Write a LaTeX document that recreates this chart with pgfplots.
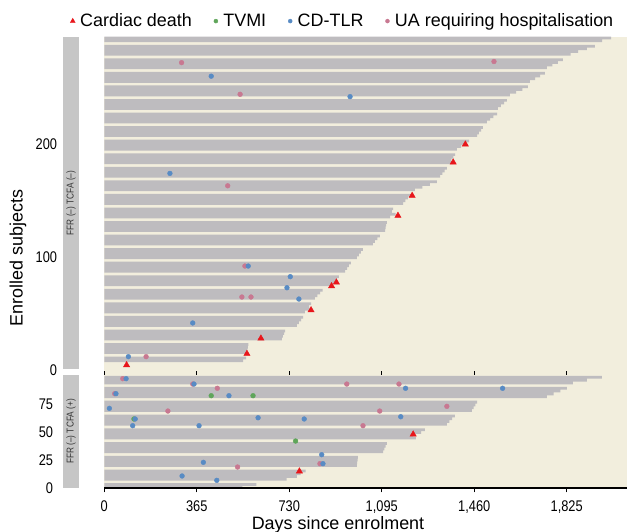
\documentclass[border=0pt]{standalone}
\usepackage{pgfplots}
\usepackage{pgfplotstable}
\pgfplotsset{compat=1.18}
\usepackage{fontspec}
\setmainfont{Liberation Sans}
\newfontfamily\condfont{Liberation Sans}[FakeStretch=0.83]
\definecolor{bg}{HTML}{F2EEDD}
\definecolor{bargray}{HTML}{BEBCBF}
\definecolor{stripgray}{HTML}{C6C6C6}
\definecolor{cdred}{HTML}{E8161B}
\definecolor{tvgreen}{HTML}{5FA55A}
\definecolor{tlrblue}{HTML}{588BC4}
\definecolor{uapink}{HTML}{C87891}

% follow-up per row group, FFR(-) TCFA(-)
\pgfplotstableread{
y len
293.8 2000
291.4 1965
286.6 1936
284.2 1905
281.8 1870
279.4 1840
274.6 1810
272.2 1790
269.8 1768
267.4 1747
262.6 1739
260.2 1720
257.8 1700
255.4 1680
250.6 1672
248.2 1650
245.8 1625
243.4 1601
238.6 1589
236.2 1578
233.8 1565
231.4 1553
226.6 1550
224.2 1536
221.8 1523
219.4 1510
214.6 1494
212.2 1487
209.8 1478
207.4 1471
202.6 1440
200.2 1425
197.8 1408
195.4 1392
190.6 1385
188.2 1378
185.8 1370
183.4 1377
178.6 1352
176.2 1343
173.8 1334
171.4 1325
166.6 1313
164.2 1285
161.8 1255
159.4 1226
154.6 1215
152.2 1198
149.8 1188
147.4 1179
142.6 1140
140.2 1135
137.8 1150
135.4 1128
130.6 1115
128.2 1112
125.8 1110
123.4 1108
118.6 1088
116.2 1078
113.8 1068
111.4 1060
106.6 1021
104.2 1013
101.8 1005
99.4 997
94.6 973
92.2 965
89.8 958
87.4 950
82.6 926
80.2 918
77.8 916
75.4 902
70.6 862
68.2 852
65.8 841
63.4 831
58.6 816
56.2 808
53.8 816
51.4 792
46.6 785
44.2 777
41.8 768
39.4 760
34.6 714
32.2 710
29.8 705
27.4 701
22.6 569
20.2 567
17.8 565
15.4 563
10.6 560
8.2 548
}\topbars

\pgfplotstableread{
x y
1425 199.7
1377 183.8
1215 154.3
1159 136.6
916 77.6
897 74.3
816 53
618 28
563 14.4
88 4.4
}\topdeath
\pgfplotstableread{
x y
422 260
259 174
970 241.9
568 92
734 82.6
721 72.8
768 62.8
349 41.6
95 11.8
}\toptlr
\pgfplotstableread{
x y
305 272
536 244
487 163
1538 273
555 92
543 64.6
579 64.6
165 11.8
}\topua

% FFR(-) TCFA(+)
\pgfplotstableread{
y len
99.09 1964
96.61 1905
94.14 1849
89.26 1826
86.79 1800
84.31 1773
81.84 1747
76.96 1471
74.49 1465
72.01 1458
69.54 1451
64.66 1384
62.19 1373
59.71 1362
57.24 1352
52.36 1265
49.89 1250
47.41 1219
44.94 1230
40.06 1115
37.59 1110
35.11 1105
32.64 1100
27.76 1001
25.29 1000
22.81 998
20.34 997
15.46 795
12.99 775
10.51 760
8.04 720
3.3 600
1.2 545
}\botbars
\pgfplotstableread{
x y
770 15.2
1219 48.2
}\botdeath
\pgfplotstableread{
x y
422 82.7
587 82.7
117 61.9
755 42.2
}\bottvmi
\pgfplotstableread{
x y
86 97.9
354 93.1
46 84.5
492 82.7
20 71.4
122 61.9
607 63
112 55.9
374 55.9
391 23.2
307 11
444 7.1
1189 89.3
1572 89.3
789 61.9
1170 63.9
858 30
863 22
}\bottlr
\pgfplotstableread{
x y
73 97.9
349 93.1
446 89.3
41 84.5
251 69
526 19
957 93.1
1163 93.1
1352 73.2
1087 69
1021 55.9
851 22
}\botua

\pgfplotsset{swim/.style={
  scale only axis, width=522.7bp, xmin=0, xmax=2063,
  anchor=south west,
  axis background/.style={fill=bg},
  axis line style={draw=none},
  ytick style={draw=none},
  yticklabel style={font=\condfont\fontsize{15.5}{15.5}\selectfont, anchor=east, inner sep=0pt, xshift=-47bp},
  clip=false,
  deathmark/.style={only marks, mark=triangle*, mark size=3.6bp, color=cdred, mark options={draw=none, fill=cdred}},
  tvmimark/.style={only marks, mark=*, mark size=2.4bp, color=tvgreen, mark options={draw=none, fill=tvgreen}},
  tlrmark/.style={only marks, mark=*, mark size=2.4bp, color=tlrblue, mark options={draw=none, fill=tlrblue}},
  uamark/.style={only marks, mark=*, mark size=2.4bp, color=uapink, mark options={draw=none, fill=uapink}},
}}

\begin{document}
\begin{tikzpicture}
\useasboundingbox (0,0) rectangle (627bp,532bp);

% top panel
\begin{axis}[swim, at={(104.3bp,156.8bp)}, height=338.2bp,
  ymin=-4.6, ymax=294.7, ytick={0,100,200}, yticklabels={0,100,200},
  xtick=\empty,
  legend columns=4,
  legend image code/.code={\draw[#1] plot coordinates {(0bp,0bp)}; \path[draw=none, fill=none] (-3bp,0bp) -- (5.5bp,0bp);},
  legend style={at={(rel axis cs:-0.0665,1.047)}, anchor=west, draw=none, fill=none,
    font=\fontsize{18}{18}\selectfont, inner sep=0pt,
    nodes={inner sep=2bp},
    /tikz/every even column/.append style={column sep=19bp}},
]
\addplot[xbar, bar width=2.4, bar shift=0pt, fill=bargray, draw=none, forget plot] table[x=len,y=y]{\topbars};
\addplot[uamark, forget plot] table[x=x,y=y]{\topua};
\addplot[tlrmark, forget plot] table[x=x,y=y]{\toptlr};
\addplot[deathmark, forget plot] table[x=x,y=y]{\topdeath};
\addlegendimage{only marks, mark=triangle*, mark size=2.8bp, cdred, mark options={draw=none, fill=cdred}}
\addlegendimage{only marks, mark=*, mark size=2bp, tvgreen, mark options={draw=none, fill=tvgreen}}
\addlegendimage{only marks, mark=*, mark size=2bp, tlrblue, mark options={draw=none, fill=tlrblue}}
\addlegendimage{only marks, mark=*, mark size=2bp, uapink, mark options={draw=none, fill=uapink}}
\legend{Cardiac death, TVMI, CD-TLR, UA requiring hospitalisation}
\end{axis}

% bottom panel
\begin{axis}[swim, at={(104.3bp,43.7bp)}, height=113.1bp,
  ymin=0, ymax=101, ytick={0,25,50,75}, yticklabels={0,25,50,75},
  xtick={0,365,730,1095,1460,1825},
  xticklabels={0,365,730,{1,095},{1,460},{1,825}},
  tick align=outside, major tick length=4bp,
  xtick style={black, line width=1bp},
  xticklabel style={font=\condfont\fontsize{15.5}{15.5}\selectfont, inner sep=0pt, yshift=-8bp},
]
\addplot[xbar, bar width=2.48, bar shift=0pt, fill=bargray, draw=none] table[x=len,y=y]{\botbars};
\addplot[uamark] table[x=x,y=y]{\botua};
\addplot[tvmimark] table[x=x,y=y]{\bottvmi};
\addplot[tlrmark] table[x=x,y=y]{\bottlr};
\addplot[deathmark] table[x=x,y=y]{\botdeath};
\draw[line width=2bp, black] (rel axis cs:0,0) -- (rel axis cs:1,0);
\end{axis}

% facet strips
\fill[stripgray] (63bp,163bp) rectangle (79bp,495bp);
\fill[stripgray] (63bp,44bp) rectangle (79bp,157bp);
\node[rotate=90, font=\condfont\fontsize{10}{10}\selectfont, text=black!80] at (71bp,329bp) {FFR (–) TCFA (–)};
\node[rotate=90, font=\condfont\fontsize{10}{10}\selectfont, text=black!80] at (71bp,100.5bp) {FFR (–) TCFA (+)};

% axis titles
\node[rotate=90, font=\fontsize{18}{18}\selectfont] at (18bp,274bp) {Enrolled subjects};
\node[font=\fontsize{18}{18}\selectfont, inner sep=0pt, anchor=base] at (338bp,2.5bp) {Days since enrolment};
\end{tikzpicture}
\end{document}
